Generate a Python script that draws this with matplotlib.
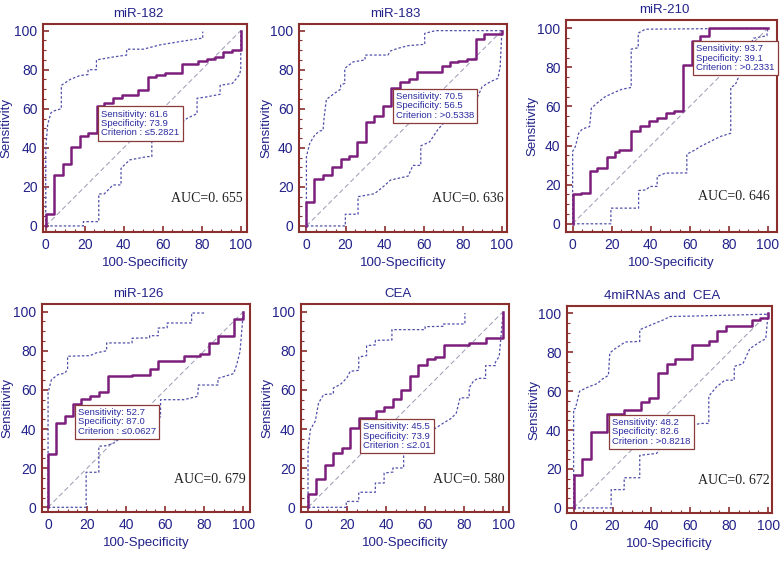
import matplotlib
matplotlib.use("Agg")
import matplotlib.pyplot as plt
from matplotlib.ticker import MultipleLocator

# ---- data ----
titles = ["miR-182", "miR-183", "miR-210", "miR-126", "CEA", "4miRNAs and  CEA"]
sens = [61.6, 70.5, 93.7, 52.7, 45.5, 48.2]
spec = [73.9, 56.5, 39.1, 87.0, 73.9, 82.6]
crit = ["\u22645.2821", ">0.5338", ">0.2331", "\u22640.0627", "\u22642.01", ">0.8218"]
auc = ["0.655", "0.636", "0.646", "0.679", "0.580", "0.672"]

# ROC step curves (corner x = 100-specificity, y = sensitivity)
roc182_x = [0, 0, 4, 8.7, 13, 17.4, 21.7, 26.1, 30, 34.5, 39, 47.5, 52.3, 56.6, 61, 69.7, 78.3, 82.6, 86.8, 91, 95.7, 100]
roc182_y = [0, 6, 26, 31.5, 40.5, 46, 47.5, 61.6, 63, 65.5, 66.8, 69.7, 76.5, 77.5, 78.5, 83, 84.5, 85.5, 86.5, 89, 90, 100]
roc183_x = [0, 0, 3.9, 8.7, 13, 17.5, 21.6, 26, 30.3, 34.8, 39.2, 43.5, 48, 52.3, 56.6, 69.3, 73.6, 77.7, 82.1, 86.9, 90.8, 100]
roc183_y = [0, 12.5, 24, 26, 30, 34.3, 35.8, 42.8, 53.4, 56.5, 61.4, 70.5, 73.9, 75, 78.7, 82, 83.8, 84.6, 85.5, 95.7, 98.3, 100]
roc210_x = [0, 0, 4.3, 8.7, 12.6, 17.4, 21.5, 23.5, 30, 34.5, 38.9, 43.3, 47.6, 52, 56.5, 60.9, 65.4, 69.7, 100]
roc210_y = [0, 15, 15.7, 27, 28.4, 34.4, 36.5, 37.5, 47.5, 50, 52.6, 54.3, 56.6, 57.8, 81.3, 93.7, 96.1, 100, 100]
roc126_x = [0, 0, 4.2, 8.5, 13, 16.9, 21.5, 25.9, 30.5, 43.2, 52, 56.4, 69.5, 78, 82.5, 86.8, 95.4, 100]
roc126_y = [0, 27.4, 43, 46.5, 52.7, 55.3, 57, 59, 67, 67.8, 70.7, 74.6, 77.5, 78.5, 84, 87.7, 96.3, 100]
roccea_x = [0, 0, 4.3, 8.7, 13, 17.4, 21.6, 26.1, 34.8, 39, 43.5, 47.8, 52.1, 56.6, 60.8, 65, 69.7, 82.6, 91.1, 100]
roccea_y = [0, 7, 14.5, 21.5, 27.8, 30.3, 40.5, 45.5, 49, 51.3, 55.4, 60, 67, 72.9, 75.8, 76.8, 83.1, 84, 86.5, 100]
rocall_x = [0, 0, 4.3, 8.7, 17.4, 26, 34.5, 39, 43.6, 47.9, 52.1, 61, 69.7, 73.8, 78.1, 91.5, 95.7, 100]
rocall_y = [0, 17, 25, 39, 48.2, 50.3, 54.5, 56.2, 69.5, 74.1, 76.7, 83.8, 85.5, 90.8, 93.4, 96.3, 97.4, 100]

# 95% CI bands (dotted), upper and lower
up182_x = [0, 0, 1, 2.7, 4.5, 8, 8, 12.5, 17.5, 21.7, 21.7, 26, 26, 34.5, 41.5, 41.5, 50, 58.6, 69.5, 79, 80.5, 80.5]
up182_y = [0, 40, 52, 58, 59, 60, 72, 75, 77, 77.5, 80, 80, 85, 86.5, 87.5, 90.5, 90.5, 92.7, 94.5, 96, 96, 99.5]
lo182_x = [0, 19.3, 19.3, 27.2, 27.2, 30, 34.5, 38.6, 38.6, 43, 52, 54.4, 54.4, 60, 69.7, 72.3, 77.6, 77.6, 82, 89.4, 89.4, 95.7, 99.3, 100, 100]
lo182_y = [0, 0, 2.2, 2.2, 16.4, 16.4, 21, 21, 29.5, 33.8, 35.5, 35.5, 45, 50, 52.9, 55, 57.5, 65.4, 66, 67.4, 72, 73, 77.3, 80, 100]
up183_x = [0, 0, 1.7, 4.3, 6.8, 8.5, 9, 10.2, 14.5, 17.5, 17.5, 19.6, 19.6, 23.9, 30, 30, 41.7, 43, 47, 52, 60.5, 60.5, 66, 100]
up183_y = [0, 35.5, 42.3, 46.6, 48.6, 49, 55, 64.8, 68, 70, 72.2, 73, 80.7, 84, 85, 87.5, 87.5, 89.6, 91, 92.3, 93, 98.6, 100, 100]
lo183_x = [0, 19.9, 19.9, 26.4, 26.4, 34.8, 39.2, 43, 47.5, 52, 54.5, 58.5, 58.5, 63, 67, 69.5, 75, 80, 84, 87.5, 89.9, 94.2, 98, 99.1, 100]
lo183_y = [0, 0, 6, 6, 15, 16.5, 20, 23.5, 24.5, 25.5, 31, 31, 41, 43, 49, 52, 56, 60, 62, 66, 71.3, 73.9, 75.6, 81.6, 100]
up210_x = [0, 0, 1.4, 3.1, 5, 8.7, 9.6, 12.5, 16.7, 21, 25.3, 30, 30, 33.6, 33.6, 37.2, 100]
up210_y = [0, 37, 39.5, 46.3, 48.5, 49.7, 59.1, 61.7, 65, 67, 68.8, 69.7, 89.3, 90, 97.5, 99.5, 100]
lo210_x = [0, 19.6, 19.6, 33.8, 33.8, 37.7, 39.4, 43.3, 43.3, 47.5, 56.5, 58.5, 58.5, 62.8, 65.4, 68.8, 75.6, 81, 81, 83.3, 85, 88, 92.7, 99.5, 100]
lo210_y = [0, 0, 8, 8, 17, 17.3, 19.1, 19.1, 24.2, 25.9, 26, 26, 35.6, 37.8, 39.5, 41.2, 44.6, 46.3, 69.8, 71, 75, 85, 94.9, 96.1, 100]
up126_x = [0, 0, 1.7, 5, 8.5, 10, 10, 21.5, 24.6, 30, 30, 43, 43, 52, 52, 56.4, 56.4, 61, 61, 73.5, 73.5, 80]
up126_y = [0, 58.4, 65.2, 67.8, 68.5, 70.4, 77.2, 77.5, 78.9, 80, 84, 84, 86.4, 86.6, 87.7, 87.7, 91.6, 91.8, 94.2, 94.2, 99.3, 99.3]
lo126_x = [0, 19.5, 19.5, 26, 26, 30, 34, 40, 48, 57.6, 57.6, 69.5, 76.6, 77, 87, 87, 95, 96.6, 98.3, 100]
lo126_y = [0, 0, 17.9, 17.9, 31.2, 31.5, 33, 38, 44, 46.2, 55, 55, 56.7, 62.5, 62.5, 65.9, 68.3, 72.9, 79.7, 100]
upcea_x = [0, 0, 1.2, 3.7, 5.4, 8, 13, 13, 16.5, 19.9, 21.6, 26, 26, 30, 30, 34.5, 34.5, 43, 43, 60, 60, 69.5, 69.5, 80.4, 80.4]
upcea_y = [0, 29.8, 39.7, 44, 53.3, 57.6, 58, 61, 62.7, 66.1, 69.5, 70, 76.8, 77.5, 82.6, 83, 85.3, 85.5, 90.8, 90.8, 92.3, 92.5, 93.7, 93.7, 99.3]
locea_x = [0, 19.6, 19.6, 26, 26, 34.5, 34.5, 39, 39, 43.5, 43.5, 49, 49, 55, 65.5, 69.3, 73.6, 76, 77.9, 82.6, 82.6, 84.7, 87, 91, 91, 96, 96, 98, 100]
locea_y = [0, 0, 3, 3, 7.7, 7.7, 12.4, 12.4, 17.5, 18, 20.1, 20.1, 29, 35, 40.5, 43, 45.6, 48.2, 55.9, 56, 61, 64.4, 65.9, 65.9, 72.4, 72.4, 74.1, 77.2, 100]
upall_x = [0, 0, 0.9, 3.1, 7.7, 12.3, 14.5, 17.9, 18.6, 21.4, 26.5, 34, 34, 41, 46.2, 49.6, 60, 100, 100]
upall_y = [0, 50.8, 51, 60, 62.2, 63.9, 66, 68.1, 79.6, 81.8, 85.2, 85.5, 91.5, 94.5, 96.6, 98.3, 98.5, 99.5, 100]
loall_x = [0, 19.3, 19.3, 26, 26, 34, 34, 42.7, 48.7, 60, 65, 69.5, 69.5, 73.5, 77.8, 82.6, 82.6, 87, 90.6, 95.7, 98.8, 100]
loall_y = [0, 0, 9.4, 9.4, 15.5, 15.5, 27, 28, 38.3, 42, 43.4, 43.4, 57.4, 62.2, 65.6, 65.6, 72.7, 74, 81.8, 85.2, 86.9, 100]

roc_x = [roc182_x, roc183_x, roc210_x, roc126_x, roccea_x, rocall_x]
roc_y = [roc182_y, roc183_y, roc210_y, roc126_y, roccea_y, rocall_y]
up_x = [up182_x, up183_x, up210_x, up126_x, upcea_x, upall_x]
up_y = [up182_y, up183_y, up210_y, up126_y, upcea_y, upall_y]
lo_x = [lo182_x, lo183_x, lo210_x, lo126_x, locea_x, loall_x]
lo_y = [lo182_y, lo183_y, lo210_y, lo126_y, locea_y, loall_y]

# ---- layout (pixel boxes: left, right, top, bottom) and axis limits ----
W, H = 780, 562
boxes = [(43, 247, 24, 232), (299, 507, 24, 232), (566, 777, 20, 232),
         (42, 250, 304, 512), (301, 509, 304, 512), (567, 772, 306, 513)]
xlims = [(-1.4, 103.2), (-3.8, 102.6), (-3.4, 104.7), (-3.1, 103.4), (-3.6, 103), (-3.4, 102)]
ylims = [(-3.1, 103.4), (-3.1, 103.4), (-4.2, 104.2), (-2.4, 103.9), (-2.4, 103.9), (-2.6, 103.7)]
ylabel_x = [-0.15, -0.13, -0.133, -0.137, -0.132, -0.129]

NAVY = "#22228a"
SPINE = "#8b2e2e"
ROC = "#7c1f7c"
CI = "#5050aa"
DIAG = "#9a9ab4"
SANS = ["Liberation Sans", "DejaVu Sans"]

plt.rcParams["font.family"] = SANS


def draw_panel(ax, i):
    ax.plot([0, 100], [0, 100], color=DIAG, lw=0.7, ls=(0, (5, 3)))
    ax.plot(up_x[i], up_y[i], color=CI, lw=0.9, ls=(0, (2, 1.6)))
    ax.plot(lo_x[i], lo_y[i], color=CI, lw=0.9, ls=(0, (2, 1.6)))
    ax.plot(roc_x[i], roc_y[i], color=ROC, lw=1.8, drawstyle="steps-post")

    ax.set_xlim(*xlims[i])
    ax.set_ylim(*ylims[i])
    ax.xaxis.set_major_locator(MultipleLocator(20))
    ax.yaxis.set_major_locator(MultipleLocator(20))
    ax.xaxis.set_minor_locator(MultipleLocator(5))
    ax.yaxis.set_minor_locator(MultipleLocator(5))
    ax.tick_params(which="both", direction="in", color=SPINE, width=1.2,
                   labelcolor=NAVY, labelsize=10, pad=4)
    ax.tick_params(which="major", length=4)
    ax.tick_params(which="minor", length=2, width=0.8)
    for s in ax.spines.values():
        s.set_color(SPINE)
        s.set_linewidth(1.5)

    ax.set_title(titles[i], color=NAVY, fontsize=9.5, pad=5, x=0.465)
    ax.set_xlabel("100-Specificity", color=NAVY, fontsize=9.5, labelpad=4)
    ax.set_ylabel("Sensitivity", color=NAVY, fontsize=9.5)
    ax.yaxis.set_label_coords(ylabel_x[i], 0.5)

    label = "Sensitivity: %.1f\nSpecificity: %.1f\nCriterion : %s" % (sens[i], spec[i], crit[i])
    ax.annotate(label, xy=(100 - spec[i], sens[i]), xytext=(3.2, -2.8),
                textcoords="offset points", ha="left", va="top",
                fontsize=6.8, color="#2b2ba0", linespacing=1.05, zorder=5,
                bbox=dict(boxstyle="square,pad=0.35", fc="white", ec="#8b3a3a", lw=0.9))
    ax.text(101, 14, "AUC=0. " + auc[i][2:], ha="right", va="center",
            fontsize=10, color="#222222", family=["Liberation Serif", "DejaVu Serif"])


fig = plt.figure(figsize=(W / 100, H / 100), dpi=100)
for i, (l, r, t, b) in enumerate(boxes):
    ax = fig.add_axes([l / W, 1 - b / H, (r - l) / W, (b - t) / H])
    draw_panel(ax, i)

plt.savefig("out.png", dpi=100, facecolor="white")
